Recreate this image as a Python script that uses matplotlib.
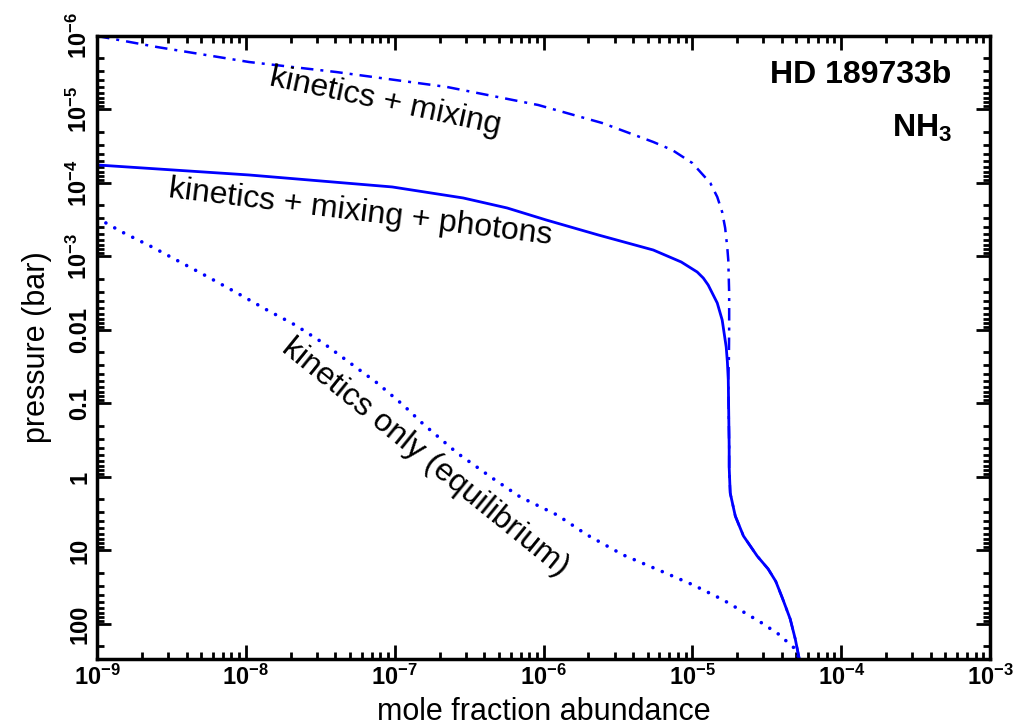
import numpy as np
import matplotlib
matplotlib.use("Agg")
import matplotlib.pyplot as plt
from matplotlib.ticker import LogLocator, FixedLocator, FixedFormatter, NullFormatter

plt.rcParams["font.family"] = ["Liberation Sans", "DejaVu Sans"]
plt.rcParams["mathtext.fontset"] = "custom"
plt.rcParams["mathtext.rm"] = "Liberation Sans:bold"
plt.rcParams["mathtext.it"] = "Liberation Sans:bold"
plt.rcParams["mathtext.bf"] = "Liberation Sans:bold"
plt.rcParams["mathtext.default"] = "rm"

# log10 of abundance / pressure
# kinetics + mixing (dash-dot)
mix_logx = [-9.0, -8.597, -7.979, -7.394, -6.648, -6.036, -5.606, -5.263, -5.136, -5.001,
            -4.880, -4.833, -4.800, -4.780, -4.766, -4.759, -4.753, -4.753, -4.755,
            -4.759, -4.756, -4.753, -4.753, -4.746, -4.712, -4.657, -4.565, -4.491,
            -4.440, -4.395, -4.343, -4.309, -4.282]
mix_logp = [-6.0, -5.850, -5.646, -5.510, -5.306, -5.061, -4.816, -4.558, -4.449, -4.272,
            -4.000, -3.810, -3.605, -3.388, -3.129, -2.952, -2.503, -2.041, -1.592,
            -1.320, -0.871, -0.408, -0.136, 0.218, 0.531, 0.803, 1.075, 1.252,
            1.420, 1.650, 1.932, 2.204, 2.477]

# kinetics + mixing + photons (solid)
phot_logx = [-9.0, -7.979, -7.017, -6.540, -6.245, -5.983, -5.633, -5.263, -5.075, -4.968,
             -4.927, -4.894, -4.833, -4.800, -4.773, -4.765, -4.759, -4.756, -4.753,
             -4.753, -4.746, -4.712, -4.657, -4.565, -4.491, -4.440, -4.395, -4.343,
             -4.309, -4.282]
phot_logp = [-4.245, -4.109, -3.946, -3.796, -3.660, -3.497, -3.293, -3.088, -2.925, -2.789,
             -2.707, -2.612, -2.367, -2.136, -1.769, -1.565, -1.320, -0.871, -0.408,
             -0.136, 0.218, 0.531, 0.803, 1.075, 1.252, 1.420, 1.650, 1.932,
             2.204, 2.477]

# kinetics only, equilibrium (dotted)
eq_logx = [-9.0, -8.832, -8.630, -8.442, -8.254, -8.059, -7.858, -7.669, -7.481, -7.300,
           -7.118, -6.944, -6.809, -6.581, -6.345, -6.157, -5.909, -5.707, -5.465,
           -5.196, -4.995, -4.793, -4.544, -4.423, -4.309, -4.282]
eq_logp = [-3.524, -3.333, -3.129, -2.925, -2.721, -2.503, -2.272, -2.068, -1.823, -1.551,
           -1.279, -0.980, -0.721, -0.327, 0.014, 0.272, 0.517, 0.789, 1.061,
           1.293, 1.469, 1.673, 1.973, 2.136, 2.340, 2.477]

x_ticks = [1e-9, 1e-8, 1e-7, 1e-6, 1e-5, 1e-4, 1e-3]
x_labels = [r"$10^{-9}$", r"$10^{-8}$", r"$10^{-7}$", r"$10^{-6}$", r"$10^{-5}$", r"$10^{-4}$", r"$10^{-3}$"]
y_ticks = [1e-6, 1e-5, 1e-4, 1e-3, 0.01, 0.1, 1, 10, 100]
y_labels = [r"$10^{-6}$", r"$10^{-5}$", r"$10^{-4}$", r"$10^{-3}$", "0.01", "0.1", "1", "10", "100"]

fig = plt.figure(figsize=(10.16, 7.27), dpi=100)
ax = fig.add_axes([0.0955, 0.0935, 0.879, 0.857])

blue = "#0000ff"
ax.plot(10 ** np.array(mix_logx), 10 ** np.array(mix_logp), color=blue, lw=1.8,
        linestyle=(0, (5, 2.8, 1.2, 2.8)))
ax.plot(10 ** np.array(phot_logx), 10 ** np.array(phot_logp), color=blue, lw=2.0)
ax.plot(10 ** np.array(eq_logx), 10 ** np.array(eq_logp), color=blue, lw=2.6,
        linestyle=(0, (0.01, 2.8)), dash_capstyle="round")

ax.set_xscale("log")
ax.set_yscale("log")
ax.set_xlim(1e-9, 1e-3)
ax.set_ylim(300, 1e-6)

ax.xaxis.set_major_locator(FixedLocator(x_ticks))
ax.xaxis.set_major_formatter(FixedFormatter(x_labels))
ax.yaxis.set_major_locator(FixedLocator(y_ticks))
ax.yaxis.set_major_formatter(FixedFormatter(y_labels))
for a in (ax.xaxis, ax.yaxis):
    a.set_minor_locator(LogLocator(base=10, subs=np.arange(2, 10), numticks=20))
    a.set_minor_formatter(NullFormatter())

ax.tick_params(which="both", direction="in", top=True, right=True, width=2, colors="black")
ax.tick_params(which="major", length=10, labelsize=17)
ax.tick_params(which="minor", length=5)
ax.tick_params(axis="x", pad=4)
ax.tick_params(axis="y", pad=4)
for lab in ax.get_xticklabels() + ax.get_yticklabels():
    lab.set_fontweight("bold")
for lab in ax.get_yticklabels():
    lab.set_rotation(90)
    lab.set_va("center")
for s in ax.spines.values():
    s.set_linewidth(2.5)

ax.set_xlabel("mole fraction abundance", fontsize=22, labelpad=5)
ax.set_ylabel("pressure (bar)", fontsize=22, labelpad=10)

ax.text(10 ** -7.065, 10 ** -5.102, "kinetics + mixing", fontsize=23, rotation=-12,
        ha="center", va="center", rotation_mode="anchor")
ax.text(10 ** -7.233, 10 ** -3.592, "kinetics + mixing + photons", fontsize=23, rotation=-7,
        ha="center", va="center", rotation_mode="anchor")
ax.text(10 ** -6.796, 10 ** -0.259, "kinetics only (equilibrium)", fontsize=23, rotation=-39,
        ha="center", va="center", rotation_mode="anchor")

ax.text(0.957, 0.937, "HD 189733b", transform=ax.transAxes, fontsize=23,
        fontweight="bold", ha="right", va="center")
ax.text(0.957, 0.852, r"NH$_3$", transform=ax.transAxes, fontsize=23,
        fontweight="bold", ha="right", va="center")

fig.savefig("out.png", dpi=100)
